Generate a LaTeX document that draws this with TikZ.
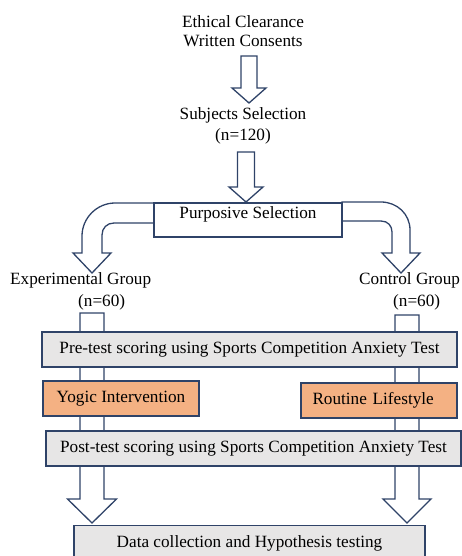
\documentclass[tikz,border=0pt]{standalone}
\usepackage{fontspec}
\setmainfont{Liberation Serif}
\usetikzlibrary{positioning}

\definecolor{navy}{HTML}{2F4368}
\definecolor{boxgray}{HTML}{E7E6E6}
\definecolor{boxorange}{HTML}{F4B183}

% hollow arrow pointing down: x, top, shaft length, shaft half width, head half width, head height
\newcommand{\blockdown}[6]{%
  \draw[blockarrow] (#1,#2) ++(-#4,0) -- ++(0,#3) -- ++({#4-#5},0) -- ++(#5,#6)
    -- ++(#5,-#6) -- ++({#4-#5},0) -- ++(0,-#3) -- cycle;}

\begin{document}
\begin{tikzpicture}[x=1pt,y=-1pt,
	every node/.style={font=\fontsize{17.2}{20}\selectfont},
	blockarrow/.style={draw=navy,fill=white,line width=1.3pt,line join=miter},
	graybox/.style={draw=navy,fill=boxgray,line width=1.3pt,minimum height=35pt,inner sep=0pt},
	orangebox/.style={graybox,fill=boxorange},
	grouplabel/.style={align=left,anchor=west,inner sep=0pt,font=\fontsize{17.2}{22}\selectfont}]
	
	\useasboundingbox (0,0) rectangle (461,556);
	
	% arrows first, the boxes lie on top of them
	\blockdown{249}{56}{32}{8}{17}{15}
	\blockdown{246}{152}{35}{8.5}{17}{15}
	\draw[blockarrow] (154,203) -- (115,203) .. controls (97,203) and (82,218) .. (82,236)
		-- (82,253) -- (73,253) -- (92,273) -- (111,253) -- (102,253) -- (102,235)
		.. controls (102,228) and (107,223) .. (114,223) -- (154,223) -- cycle;
	\draw[blockarrow] (342,202) -- (381,202) .. controls (397,202) and (410,214) .. (410,230)
		-- (410,253) -- (420,253) -- (401,273) -- (382,253) -- (392,253) -- (392,232)
		.. controls (392,226) and (388,221) .. (381,221) -- (342,221) -- cycle;
	\blockdown{92}{313}{186}{12}{24.5}{24}
	\blockdown{407}{315}{184}{12}{24}{24}
	
	\node[align=center,font=\fontsize{17.2}{19}\selectfont] (ethics) at (243,31) {Ethical Clearance\\Written Consents};
	\node[align=center,font=\fontsize{17.2}{21}\selectfont] (subjects) at (243,126) {Subjects Selection\\(n=120)};
	\node[draw=navy,fill=white,line width=1.3pt,minimum width=188pt,inner xsep=0pt,inner ysep=3pt,
		text height=12pt,text depth=16pt] (purposive) at (248,220) {Purposive Selection};
	
	\node[grouplabel] (expgroup) at (10,291) {Experimental Group\\\hspace*{68pt}(n=60)};
	\node[grouplabel] (ctrlgroup) at (359,291) {Control Group\\\hspace*{34pt}(n=60)};
	
	\node[graybox,minimum width=415pt] (pretest) at (249.5,349.5) {Pre-test scoring using Sports Competition Anxiety Test};
	\node[orangebox,minimum width=156pt] (yogic) at (121,398.5) {Yogic Intervention};
	\node[orangebox,minimum width=156pt,text width=133pt,align=left] (routine) at (379,400.5) {Routine Lifestyle};
	\node[graybox,minimum width=415pt] (posttest) at (253.5,448.5) {Post-test scoring using Sports Competition Anxiety Test};
	\node[graybox,minimum width=351pt] (datacoll) at (249.5,543) {Data collection and Hypothesis testing};
\end{tikzpicture}
\end{document}
